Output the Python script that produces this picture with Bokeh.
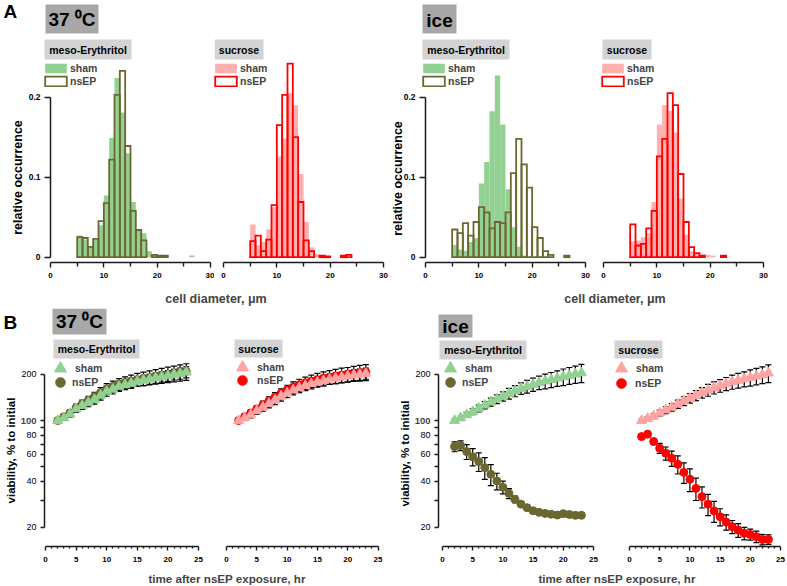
import math
from bokeh.plotting import figure
from bokeh.layouts import column, row
from bokeh.models import (ColumnDataSource, FixedTicker, Range1d, Label, BoxAnnotation,
                          Legend, LegendItem, Whisker, TeeHead, CustomJSTickFormatter)
from bokeh.embed import file_html
from bokeh.resources import INLINE

FONT = "Liberation Sans"

# ---------------- data: A, cell diameter histograms (1 um bins) ----------------
bin_left = list(range(5, 28))
hist_37_meso_sham = [0.027, 0.022, 0.013, 0.022, 0.040, 0.077, 0.149, 0.224, 0.181, 0.130, 0.069, 0.033,
                     0.030, 0.0075, 0.003, 0.002, 0.001, 0, 0, 0, 0, 0.002, 0]
hist_37_meso_nsep = [0.025, 0.024, 0.013, 0.023, 0.045, 0.0675, 0.122, 0.203, 0.233, 0.139, 0.058, 0.034,
                     0.021, 0, 0.003, 0.002, 0.002, 0, 0, 0, 0, 0, 0]
hist_37_suc_sham = [0.041, 0.015, 0.019, 0.035, 0.0625, 0.126, 0.148, 0.205, 0.190, 0.104, 0.044, 0.0125,
                    0.004, 0.002, 0.001, 0, 0, 0, 0, 0, 0, 0, 0]
hist_37_suc_nsep = [0.020, 0.027, 0.0075, 0.022, 0.065, 0.165, 0.203, 0.242, 0.150, 0.069, 0.021, 0.0075,
                    0, 0.002, 0.001, 0, 0, 0.002, 0.003, 0, 0, 0, 0]
hist_ice_meso_sham = [0.0154, 0.0096, 0.008, 0.019, 0.024, 0.092, 0.119, 0.1825, 0.227, 0.166, 0.085, 0.0375,
                      0.013, 0.002, 0, 0, 0, 0, 0, 0, 0, 0, 0]
hist_ice_meso_nsep = [0.0346, 0.030, 0.0425, 0.027, 0.044, 0.0625, 0.056, 0.036, 0.044, 0.0425, 0.056, 0.105,
                      0.148, 0.116, 0.087, 0.0375, 0.024, 0.0075, 0.003, 0, 0, 0.002, 0]
hist_ice_suc_sham = [0.020, 0.021, 0.025, 0.030, 0.069, 0.166, 0.190, 0.183, 0.156, 0.073, 0.028, 0.0075,
                     0.004, 0.003, 0.003, 0.002, 0, 0, 0, 0, 0, 0, 0]
hist_ice_suc_nsep = [0.041, 0.0146, 0.0167, 0.036, 0.058, 0.126, 0.148, 0.205, 0.190, 0.104, 0.044, 0.0125,
                     0.005, 0.002, 0, 0, 0, 0.002, 0, 0, 0, 0, 0]

hist_x_ticks = [0, 10, 20, 30]
hist_x_minor = [5, 15, 25]
hist_y_ticks = [0, 0.1, 0.2]

# ---------------- data: B, viability vs time ----------------
hours = list(range(2, 24))
via_37_meso_sham = [100, 104, 110, 119, 125, 131, 137, 146, 155, 160, 167, 171, 175, 180, 183, 186, 190, 193, 196, 200, 203, 207]
via_37_meso_sham_err = [3, 4, 5, 6, 7, 8, 9, 10, 11, 11, 12, 12, 13, 13, 14, 14, 15, 15, 16, 16, 17, 17]
via_37_meso_nsep = [100, 106, 112, 121, 128, 135, 143, 152, 161, 167, 173, 177, 181, 185, 188, 191, 194, 197, 200, 203, 206, 209]
via_37_meso_nsep_err = [3, 4, 5, 7, 8, 9, 10, 12, 13, 14, 15, 16, 17, 18, 19, 20, 21, 22, 23, 24, 25, 26]

via_37_suc_sham = [100, 104, 109, 116, 122, 129, 136, 144, 151, 158, 164, 169, 174, 178, 182, 186, 189, 192, 195, 198, 200, 203]
via_37_suc_sham_err = [3, 4, 5, 6, 7, 8, 9, 10, 10, 11, 12, 12, 13, 13, 14, 14, 15, 15, 16, 16, 17, 17]
via_37_suc_nsep = [100, 106, 112, 119, 126, 134, 142, 150, 158, 165, 171, 176, 181, 185, 189, 192, 195, 198, 200, 203, 205, 207]
via_37_suc_nsep_err = [3, 4, 5, 6, 8, 9, 10, 11, 12, 14, 15, 16, 17, 18, 19, 20, 21, 22, 22, 23, 24, 25]

via_ice_meso_sham = [100, 104, 109, 114, 120, 126, 132, 138, 144, 150, 156, 162, 167, 172, 177, 181, 185, 189, 193, 197, 201, 205]
via_ice_meso_sham_err = [2, 3, 4, 5, 6, 7, 8, 9, 10, 12, 13, 14, 16, 17, 18, 20, 21, 22, 24, 25, 26, 28]
via_ice_meso_nsep = [67.5, 68.6, 62.6, 58.0, 53.9, 49.2, 44.5, 40.2, 36.6, 33.4, 30.5, 28.4, 26.9, 25.7, 25.1, 24.7,
                     24.4, 24.1, 24.6, 24.3, 24.0, 24.0]
via_ice_meso_nsep_err = [5, 5, 7, 7.5, 7.5, 8, 7, 5, 3.5, 2.5, 1.5, 0.8, 0.6, 0.5, 0.4, 0.4, 0.4, 0.4, 0.4, 0.4, 0.4, 0.4]

via_ice_suc_sham = [100, 103, 107, 112, 117, 122, 128, 134, 140, 146, 152, 158, 164, 169, 174, 179, 183, 187, 191, 195, 199, 204]
via_ice_suc_sham_err = [2, 3, 4, 5, 6, 7, 8, 9, 10, 11, 12, 14, 15, 16, 17, 19, 20, 21, 23, 24, 25, 27]
via_ice_suc_nsep = [78.5, 81.4, 72.9, 65.9, 61.1, 56.6, 51.7, 45.8, 41.3, 36.0, 31.8, 28.4, 25.6, 23.5, 21.7, 20.2,
                    19.2, 18.3, 18.0, 17.4, 16.7, 16.7]
via_ice_suc_nsep_err = [0, 0, 3, 5, 6, 6.5, 7, 7, 7, 6, 5, 4.5, 4, 3, 2.5, 2, 2, 1.7, 1.5, 1.5, 1.3, 1.2]

via_x_ticks = [0, 5, 10, 15, 20, 25]
via_x_minor = [h for h in range(1, 25) if h % 5]
via_y_ticks = [20, 40, 60, 80, 100, 200]
via_y_minor = [30, 50, 70, 90]

# ---------------- styles ----------------
GREEN = "#93d193"
OLIVE = "#6b6730"
PINK_H = "#ffb0b0"
PINK_B = "#ffa3a3"
RED = "#ff0000"
GREY_DARK = "#a8a8a8"
GREY_LIGHT = "#d3d3d3"
AXIS = "#1a1a1a"

# ---------------- geometry (page px; frame == canvas, axes at fixed locations) ----------------
TOP_A, H_A = 0, 286
ZERO_A, PPU_A, XPPU_A = 256.7, 800.0, 16.0 / 3.0     # page y of 0, px per unit occ., px per um
AXIS_A = 262.0                                       # page y of x-axis line

TOP_B, H_B = 308, 262
Y100_B, DEC_B = 420.0, 153.0                         # page y of 100 %, px per decade
AXIS_B = 546.0


class Panel:
    def __init__(self, p, left, top, height):
        self.p, self.left, self.bottom = p, left, top + height

    def sx(self, x):
        return x - self.left

    def sy(self, y):
        return self.bottom - y


def add_box(P, x0, y0, x1, y1, color):
    P.p.add_layout(BoxAnnotation(left=P.sx(x0), right=P.sx(x1), top=P.sy(y0), bottom=P.sy(y1),
                                 left_units="screen", right_units="screen",
                                 top_units="screen", bottom_units="screen",
                                 fill_color=color, fill_alpha=1.0, line_color=None))


def add_text(P, x, y, text, size, style="bold", align="center", angle=0.0):
    P.p.add_layout(Label(x=P.sx(x), y=P.sy(y), x_units="screen", y_units="screen", text=text,
                         text_font=FONT, text_font_size=f"{size}px", text_font_style=style,
                         text_align=align, text_baseline="middle", angle=angle, text_color="black"))


def style_axis(ax, font_size, bold=True):
    ax.axis_line_color = AXIS
    ax.axis_line_width = 1.5
    ax.major_tick_line_color = AXIS
    ax.minor_tick_line_color = AXIS
    ax.major_tick_line_width = 1.4
    ax.minor_tick_line_width = 1.4
    ax.major_tick_in = 0
    ax.minor_tick_in = 0
    ax.major_label_text_font = FONT
    ax.major_label_text_font_size = f"{font_size}px"
    ax.major_label_text_font_style = "bold" if bold else "normal"
    ax.major_label_text_color = "black"


def hist_panel(left, width, x_zero, sham, nsep, sham_col, nsep_col, show_y):
    xr = Range1d((left - x_zero) / XPPU_A, (left + width - x_zero) / XPPU_A)
    yr = Range1d((ZERO_A - (TOP_A + H_A)) / PPU_A, (ZERO_A - TOP_A) / PPU_A)
    p = figure(width=width, height=H_A, x_range=xr, y_range=yr,
               output_backend="svg", toolbar_location=None, min_border=0,
               y_axis_location="left" if show_y else None)
    p.outline_line_color = None
    p.grid.visible = False
    sl = [b for b, v in zip(bin_left, sham) if v > 0]
    sv = [v for v in sham if v > 0]
    nl = [b for b, v in zip(bin_left, nsep) if v > 0]
    nv = [v for v in nsep if v > 0]
    rs = p.quad(left="l", right="r", bottom=0, top="t",
                source=ColumnDataSource(dict(l=sl, r=[b + 1 for b in sl], t=sv)),
                fill_color=sham_col, fill_alpha=1.0, line_color=None)
    rn = p.quad(left="l", right="r", bottom=0, top="t",
                source=ColumnDataSource(dict(l=nl, r=[b + 1 for b in nl], t=nv)),
                fill_color=None, line_color=nsep_col, line_width=1.8, line_join="miter")
    xa = p.xaxis[0]
    xa.fixed_location = (ZERO_A - AXIS_A) / PPU_A
    xa.bounds = (0, 30)
    xa.ticker = FixedTicker(ticks=hist_x_ticks, minor_ticks=hist_x_minor)
    style_axis(xa, 8)
    xa.major_tick_out = 5
    xa.minor_tick_out = 4
    xa.major_label_standoff = 5
    if show_y:
        ya = p.yaxis[0]
        ya.fixed_location = 0
        ya.ticker = FixedTicker(ticks=hist_y_ticks, minor_ticks=[])
        ya.bounds = (0, 0.2)
        ya.formatter = CustomJSTickFormatter(code="return tick == 0 ? '0' : tick.toFixed(1);")
        style_axis(ya, 8.5)
        ya.major_tick_out = 6
        ya.minor_tick_out = 0
        ya.major_label_standoff = 4
    return Panel(p, left, TOP_A, H_A), rs, rn


def hist_legend(P, rs, rn, glyph_left):
    leg = Legend(items=[LegendItem(label="sham", renderers=[rs]), LegendItem(label="nsEP", renderers=[rn])],
                 location=(P.sx(glyph_left), P.sy(87)), padding=0, margin=0, spacing=1,
                 glyph_width=27, glyph_height=12, label_height=12, label_standoff=1,
                 label_text_font=FONT, label_text_font_size="10.5px", label_text_font_style="bold",
                 background_fill_alpha=0, border_line_color=None)
    P.p.add_layout(leg)


def via_panel(left, width, x_zero, ppu, axis_x, sham, sham_err, nsep, nsep_err, sham_col, nsep_col, show_y):
    xr = Range1d((left - x_zero) / ppu, (left + width - x_zero) / ppu)
    yr = Range1d(10 ** (2 - (TOP_B + H_B - Y100_B) / DEC_B), 10 ** (2 + (Y100_B - TOP_B) / DEC_B))
    p = figure(width=width, height=H_B, x_range=xr, y_range=yr,
               y_axis_type="log", output_backend="svg", toolbar_location=None, min_border=0,
               y_axis_location="left" if show_y else None)
    p.outline_line_color = None
    p.grid.visible = False
    for vals, errs in ((nsep, nsep_err), (sham, sham_err)):
        src = ColumnDataSource(dict(t=hours, lo=[v - e for v, e in zip(vals, errs)],
                                    hi=[v + e for v, e in zip(vals, errs)]))
        p.add_layout(Whisker(source=src, base="t", lower="lo", upper="hi", dimension="height",
                             line_color="black", line_width=1.2, level="underlay",
                             upper_head=TeeHead(size=6, line_color="black", line_width=1.2),
                             lower_head=TeeHead(size=6, line_color="black", line_width=1.2)))
    rn = p.scatter(x="t", y="v", source=ColumnDataSource(dict(t=hours, v=nsep)), marker="circle",
                   size=8, fill_color=nsep_col, line_color=nsep_col)
    rs = p.scatter(x="t", y="v", source=ColumnDataSource(dict(t=hours, v=sham)), marker="triangle",
                   size=10, fill_color=sham_col, line_color=sham_col)
    xa = p.xaxis[0]
    xa.fixed_location = 10 ** (2 - (AXIS_B - Y100_B) / DEC_B)
    xa.ticker = FixedTicker(ticks=via_x_ticks, minor_ticks=via_x_minor)
    xa.bounds = (0, 25)
    style_axis(xa, 8)
    xa.major_tick_out = 4
    xa.minor_tick_out = 2
    xa.major_label_standoff = 6
    P = Panel(p, left, TOP_B, H_B)
    if show_y:
        ya = p.yaxis[0]
        ya.fixed_location = (axis_x - x_zero) / ppu
        ya.ticker = FixedTicker(ticks=via_y_ticks, minor_ticks=via_y_minor)
        ya.bounds = (20, 200)
        ya.formatter = CustomJSTickFormatter(code="return tick == 100 ? '' : tick.toString();")
        style_axis(ya, 9, bold=False)
        ya.major_tick_out = 4
        ya.minor_tick_out = 4
        ya.major_label_standoff = 4
        p.add_layout(Label(x=P.sx(axis_x - 8), y=100, x_units="screen", y_units="data", text="100",
                           text_font=FONT, text_font_size="9.5px", text_font_style="bold",
                           text_align="right", text_baseline="middle"))
    return P, rs, rn


def via_legend(P, rs, rn, cx, cy_s, cy_n, text_x):
    for r, label, g, cy in ((rs, "sham", 30, cy_s), (rn, "nsEP", 24, cy_n)):
        leg = Legend(items=[LegendItem(label=label, renderers=[r])],
                     location=(P.sx(cx - g / 2), P.sy(cy + g / 2)), padding=0, margin=0, spacing=0,
                     glyph_width=g, glyph_height=g, label_height=12,
                     label_text_font=FONT, label_text_font_size="10.5px", label_text_font_style="bold",
                     background_fill_alpha=0, border_line_color=None)
        so = int(round(text_x - (cx + g / 2)))
        try:
            leg.label_standoff = so
        except Exception:
            leg.label_standoff = 0
        P.p.add_layout(leg)


# ---------------- row A ----------------
A1, r1s, r1n = hist_panel(0, 214, 50, hist_37_meso_sham, hist_37_meso_nsep, GREEN, OLIVE, True)
add_text(A1, 3, 11, "A", 19, align="left")
add_box(A1, 45, 4, 98, 33, GREY_DARK)
add_text(A1, 71.5, 19, "37 \u2070C", 19)
add_box(A1, 44, 39, 131, 59, GREY_LIGHT)
add_text(A1, 87.5, 49, "meso-Erythritol", 10.5)
add_text(A1, 17.5, 177, "relative occurrence", 12.5, angle=math.pi / 2)
hist_legend(A1, r1s, r1n, 42)

A2, r2s, r2n = hist_panel(214, 174, 223, hist_37_suc_sham, hist_37_suc_nsep, PINK_H, RED, False)
add_box(A2, 214, 39, 263, 59, GREY_LIGHT)
add_text(A2, 238.5, 49, "sucrose", 10.5)
hist_legend(A2, r2s, r2n, 212)

A3, r3s, r3n = hist_panel(388, 208, 425, hist_ice_meso_sham, hist_ice_meso_nsep, GREEN, OLIVE, True)
add_box(A3, 422, 4, 456, 33, GREY_DARK)
add_text(A3, 439, 19.5, "ice", 19)
add_box(A3, 422, 39, 509, 59, GREY_LIGHT)
add_text(A3, 465.5, 49, "meso-Erythritol", 10.5)
add_text(A3, 397, 178, "relative occurrence", 12.5, angle=math.pi / 2)
hist_legend(A3, r3s, r3n, 420)

A4, r4s, r4n = hist_panel(596, 190, 603, hist_ice_suc_sham, hist_ice_suc_nsep, PINK_H, RED, False)
add_box(A4, 602, 39, 651, 59, GREY_LIGHT)
add_text(A4, 626.5, 49, "sucrose", 10.5)
hist_legend(A4, r4s, r4n, 599)


# ---------------- title rows ----------------
def title_row(height, y_top, items):
    p = figure(width=786, height=height, x_range=Range1d(0, 786), y_range=Range1d(y_top + height, y_top),
               output_backend="svg", toolbar_location=None, min_border=0,
               x_axis_location=None, y_axis_location=None)
    p.outline_line_color = None
    p.grid.visible = False
    for x, y, txt, size in items:
        p.add_layout(Label(x=x, y=y, text=txt, text_font=FONT, text_font_size=f"{size}px",
                           text_font_style="bold", text_align="center", text_baseline="middle"))
    return p


t1 = title_row(22, 286, [(215.5, 298, "cell diameter, \u03bcm", 12.5), (614.5, 298, "cell diameter, \u03bcm", 12.5)])
t2 = title_row(15, 570, [(226.5, 578, "time after nsEP exposure, hr", 11.6),
                         (616.5, 578, "time after nsEP exposure, hr", 11.6)])

# ---------------- row B ----------------
B1, r5s, r5n = via_panel(0, 214, 45, 6.12, 44, via_37_meso_sham, via_37_meso_sham_err,
                         via_37_meso_nsep, via_37_meso_nsep_err, GREEN, OLIVE, True)
add_text(B1, 3, 322, "B", 19, align="left")
add_box(B1, 52, 308, 106, 334, GREY_DARK)
add_text(B1, 79, 321, "37 \u2070C", 19)
add_box(B1, 53, 339, 139, 358, GREY_LIGHT)
add_text(B1, 96, 348.5, "meso-Erythritol", 10.5)
add_text(B1, 10, 450, "viability, % to initial", 11.5, angle=math.pi / 2)
via_legend(B1, r5s, r5n, 60, 368, 382, 71)

B2, r6s, r6n = via_panel(214, 176, 226, 6.06, 226, via_37_suc_sham, via_37_suc_sham_err,
                         via_37_suc_nsep, via_37_suc_nsep_err, PINK_B, RED, False)
add_box(B2, 234, 339, 282, 357, GREY_LIGHT)
add_text(B2, 258, 348, "sucrose", 10.5)
via_legend(B2, r6s, r6n, 242, 367, 380, 257)

B3, r7s, r7n = via_panel(390, 220, 442, 6.04, 438, via_ice_meso_sham, via_ice_meso_sham_err,
                         via_ice_meso_nsep, via_ice_meso_nsep_err, GREEN, OLIVE, True)
add_box(B3, 438, 314, 472, 337, GREY_DARK)
add_text(B3, 455, 325.5, "ice", 19)
add_box(B3, 439, 340, 526, 359, GREY_LIGHT)
add_text(B3, 482.5, 349.5, "meso-Erythritol", 10.5)
add_text(B3, 404, 453, "viability, % to initial", 11.5, angle=math.pi / 2)
via_legend(B3, r7s, r7n, 450, 368, 382, 462)

B4, r8s, r8n = via_panel(610, 176, 629, 6.04, 629, via_ice_suc_sham, via_ice_suc_sham_err,
                         via_ice_suc_nsep, via_ice_suc_nsep_err, PINK_B, RED, False)
add_box(B4, 614, 340, 662, 358, GREY_LIGHT)
add_text(B4, 638, 349, "sucrose", 10.5)
via_legend(B4, r8s, r8n, 621, 368, 383, 635)

layout = column(row(A1.p, A2.p, A3.p, A4.p), t1, row(B1.p, B2.p, B3.p, B4.p), t2)
open("out.html", "w").write(file_html(layout, INLINE, title="cell diameter and viability"))
